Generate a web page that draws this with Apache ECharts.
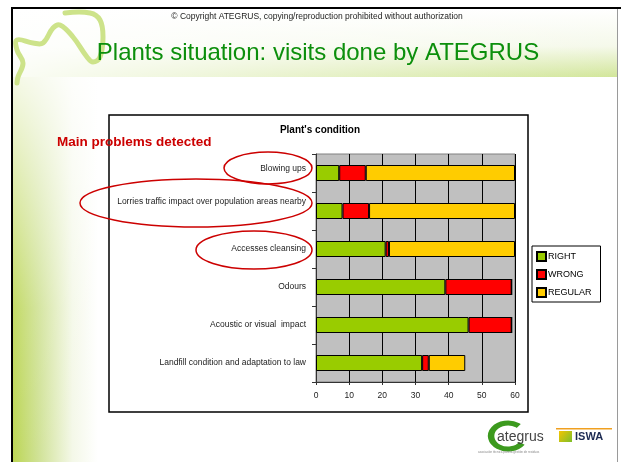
<!DOCTYPE html>
<html>
<head>
<meta charset="utf-8">
<style>
  html, body { margin: 0; padding: 0; background: #fff; }
  #main { width: 621px; height: 462px; }
</style>
<script src="https://cdn.jsdelivr.net/npm/echarts@6/dist/echarts.min.js"></script>
</head>
<body>
<div id="main"></div>
<script>
// categories, top to bottom
var categories = [
  'Blowing ups',
  'Lorries traffic impact over population areas nearby',
  'Accesses cleansing',
  'Odours',
  'Acoustic or visual  impact',
  'Landfill condition and adaptation to law'
]
var rightValues = [7, 8, 21, 39, 46, 32]
var wrongValues = [8, 8, 1, 20, 13, 2]
var regularValues = [45, 44, 38, 0, 0, 11]
var xTicks = [0, 10, 20, 30, 40, 50, 60]

var font = 'Arial, "Liberation Sans", sans-serif'

// the first two labels sit higher than their bar (trailing empty lines push them up)
var labelLift = { 'Blowing ups': '\n', 'Lorries traffic impact over population areas nearby': '\n\n' }

var myChart = echarts.init(document.getElementById('main'))

var option = {
  backgroundColor: '#fff',
  animation: false,
  textStyle: { fontFamily: font },
  title: {
    text: "Plant's condition",
    left: 320,
    textAlign: 'center',
    top: 125,
    padding: 0,
    textStyle: { fontSize: 10, fontWeight: 'bold', color: '#000', fontFamily: font }
  },
  legend: {
    orient: 'vertical',
    left: 532,
    top: 246,
    itemWidth: 9,
    itemHeight: 9,
    itemGap: 7,
    padding: [5, 9, 4, 4],
    borderColor: '#000',
    borderWidth: 1,
    backgroundColor: '#fff',
    icon: 'rect',
    textStyle: { fontSize: 9, lineHeight: 9, color: '#000', padding: [0, 0, 0, -3] },
    data: ['RIGHT', 'WRONG', 'REGULAR']
  },
  grid: {
    left: 316,
    top: 154,
    width: 199,
    height: 228,
    show: true,
    backgroundColor: '#c0c0c0',
    borderColor: '#808080',
    borderWidth: 1
  },
  xAxis: {
    type: 'value',
    min: xTicks[0],
    max: xTicks[xTicks.length - 1],
    interval: 10,
    axisLine: { show: true, lineStyle: { color: '#333' } },
    axisTick: { show: true, length: 3, lineStyle: { color: '#333' } },
    axisLabel: { fontSize: 8.5, color: '#222', margin: 9 },
    splitLine: { show: true, lineStyle: { color: '#000', width: 1 } }
  },
  yAxis: {
    type: 'category',
    inverse: true,
    data: categories,
    axisLine: { show: true, lineStyle: { color: '#333' } },
    axisTick: { show: true, length: 4, lineStyle: { color: '#333' } },
    axisLabel: {
      fontSize: 8.5,
      lineHeight: 9,
      color: '#222',
      margin: 10,
      formatter: function (v) { return v + (labelLift[v] || '') }
    },
    splitLine: { show: false }
  },
  series: [
    {
      name: 'RIGHT', type: 'bar', stack: 'a', barWidth: 16,
      itemStyle: { color: '#99cc00', borderColor: '#000', borderWidth: 1 },
      data: rightValues
    },
    {
      name: 'WRONG', type: 'bar', stack: 'a', barWidth: 16,
      itemStyle: { color: '#ff0000', borderColor: '#000', borderWidth: 1 },
      data: wrongValues
    },
    {
      name: 'REGULAR', type: 'bar', stack: 'a', barWidth: 16,
      itemStyle: { color: '#ffcc00', borderColor: '#000', borderWidth: 1 },
      data: regularValues
    }
  ],
  graphic: [
    // slide frame
    { type: 'rect', z: -20, shape: { x: 12, y: 8, width: 606, height: 454 }, style: { fill: '#fff' } },
    // green band behind slide title
    {
      type: 'rect', z: -19, shape: { x: 13, y: 9, width: 605, height: 68 },
      style: {
        fill: new echarts.graphic.LinearGradient(0, 0, 0, 1, [
          { offset: 0, color: '#ffffff' },
          { offset: 0.55, color: '#f5f9ea' },
          { offset: 1, color: '#d2e69a' }
        ])
      }
    },
    {
      type: 'rect', z: -18, shape: { x: 13, y: 9, width: 605, height: 68 },
      style: {
        fill: new echarts.graphic.LinearGradient(0, 0, 1, 0, [
          { offset: 0, color: 'rgba(255,255,255,0.9)' },
          { offset: 0.35, color: 'rgba(255,255,255,0.6)' },
          { offset: 1, color: 'rgba(255,255,255,0)' }
        ])
      }
    },
    // left green band
    {
      type: 'rect', z: -19, shape: { x: 13, y: 77, width: 85, height: 385 },
      style: {
        fill: new echarts.graphic.LinearGradient(0, 0, 1, 0, [
          { offset: 0, color: '#bcd655' },
          { offset: 0.3, color: '#d0e296' },
          { offset: 0.7, color: '#f4f8e8' },
          { offset: 1, color: '#ffffff' }
        ])
      }
    },
    {
      type: 'rect', z: -18, shape: { x: 13, y: 77, width: 85, height: 385 },
      style: {
        fill: new echarts.graphic.LinearGradient(0, 0, 0, 1, [
          { offset: 0, color: 'rgba(255,255,255,0.85)' },
          { offset: 0.6, color: 'rgba(255,255,255,0.1)' },
          { offset: 1, color: 'rgba(255,255,255,0)' }
        ])
      }
    },
    { type: 'rect', z: -17, shape: { x: 11, y: 7, width: 2, height: 455 }, style: { fill: '#000' } },
    { type: 'rect', z: -17, shape: { x: 11, y: 7, width: 610, height: 2 }, style: { fill: '#000' } },
    { type: 'rect', z: -17, shape: { x: 617, y: 9, width: 1, height: 453 }, style: { fill: '#9a9a9a' } },
    // swirl
    {
      type: 'polyline', z: -16,
      shape: {
        points: [[65, 13], [90, 13], [100, 20], [103, 37], [100, 57], [93, 62], [87, 57], [73, 37],
          [60, 25], [53, 28], [43, 43], [33, 43], [17, 40], [17, 50], [23, 63], [18, 77], [17, 83]],
        smooth: 0.4
      },
      style: { stroke: '#cde38a', lineWidth: 5, fill: null, lineCap: 'round' }
    },
    // slide texts
    {
      type: 'text', z: 5, x: 317, y: 17,
      style: { text: '© Copyright ATEGRUS, copying/reproduction prohibited without authorization', fontSize: 8.5, fontFamily: font, fill: '#222', align: 'center', verticalAlign: 'middle' }
    },
    {
      type: 'text', z: 5, x: 318, y: 53,
      style: { text: 'Plants situation: visits done by ATEGRUS', fontSize: 24, fontFamily: font, fill: '#0c8f0c', align: 'center', verticalAlign: 'middle' }
    },
    // chart box
    { type: 'rect', z: -10, shape: { x: 109, y: 115, width: 419, height: 297 }, style: { fill: '#fff', stroke: '#000', lineWidth: 1.5 } },
    {
      type: 'text', z: 20, x: 57, y: 142,
      style: { text: 'Main problems detected', fontSize: 13.5, fontWeight: 'bold', fontFamily: font, fill: '#cc0000', verticalAlign: 'middle' }
    },
    // highlighted problems
    { type: 'ellipse', z: 20, shape: { cx: 268, cy: 168, rx: 44, ry: 16 }, style: { fill: null, stroke: '#cc0000', lineWidth: 1.5 } },
    { type: 'ellipse', z: 20, shape: { cx: 196, cy: 203, rx: 116, ry: 24 }, style: { fill: null, stroke: '#cc0000', lineWidth: 1.5 } },
    { type: 'ellipse', z: 20, shape: { cx: 254, cy: 250, rx: 58, ry: 19 }, style: { fill: null, stroke: '#cc0000', lineWidth: 1.5 } },
    // logos
    {
      type: 'arc', z: 5, scaleX: 1.3, originX: 508, originY: 436,
      shape: { cx: 508, cy: 436, r: 13, startAngle: 0.6, endAngle: 5.4, clockwise: true },
      style: { stroke: '#3c9a1e', lineWidth: 5, fill: null }
    },
    {
      type: 'text', z: 6, x: 497, y: 437,
      style: { text: 'ategrus', fontSize: 14, fontFamily: '"Liberation Sans Narrow", Arial, sans-serif', fill: '#444', verticalAlign: 'middle' }
    },
    { type: 'rect', z: 5, shape: { x: 556, y: 428, width: 56, height: 1.5 }, style: { fill: '#f0a020' } },
    {
      type: 'rect', z: 5, shape: { x: 559, y: 431, width: 13, height: 11 },
      style: {
        fill: new echarts.graphic.LinearGradient(0, 0, 1, 1, [
          { offset: 0, color: '#f5c400' },
          { offset: 1, color: '#7cbf2a' }
        ])
      }
    },
    {
      type: 'text', z: 6, x: 575, y: 437,
      style: { text: 'ISWA', fontSize: 11, fontWeight: 'bold', fontFamily: font, fill: '#1c2a52', verticalAlign: 'middle' }
    },
    {
      type: 'text', z: 6, x: 478, y: 452,
      style: { text: 'asociación técnica para la gestión de residuos', fontSize: 3, fontFamily: font, fill: '#888', verticalAlign: 'middle' }
    }
  ]
}

myChart.setOption(option)
</script>
</body>
</html>
